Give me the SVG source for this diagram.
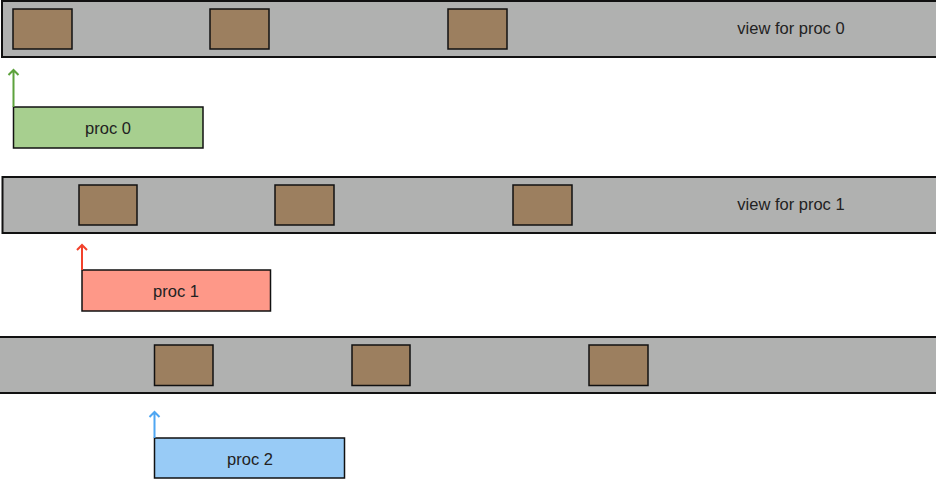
<svg xmlns="http://www.w3.org/2000/svg" width="936" height="479" viewBox="0 0 936 479">
<defs>
<style>
.bar{fill:#b0b1b0;stroke:#111;stroke-width:2}
.blk{fill:#9c7f5f;stroke:#111;stroke-width:1.5}
.proc{stroke:#111;stroke-width:1.5}
.t{font-family:"Liberation Sans",Arial,sans-serif;font-size:16.5px;fill:#222;text-anchor:middle}
.arr{fill:none;stroke-width:2}
</style>
</defs>
<rect width="936" height="479" fill="#fff"/>
<g id="view0">
<rect class="bar" x="2" y="1" width="950" height="56"/>
<rect class="blk" x="13" y="9" width="59" height="40"/>
<rect class="blk" x="210" y="9" width="59" height="40"/>
<rect class="blk" x="448" y="9" width="59" height="40"/>
<text class="t" x="791" y="34">view for proc 0</text>
</g>
<g id="view1">
<rect class="bar" x="2.5" y="177" width="950" height="56"/>
<rect class="blk" x="79" y="185" width="58" height="40"/>
<rect class="blk" x="275" y="185" width="59" height="40"/>
<rect class="blk" x="513" y="185" width="59" height="40"/>
<text class="t" x="791" y="210">view for proc 1</text>
</g>
<g id="view2">
<rect class="bar" x="-10" y="337" width="962" height="56"/>
<rect class="blk" x="154.5" y="345" width="58.5" height="40.5"/>
<rect class="blk" x="352" y="345" width="58" height="40.5"/>
<rect class="blk" x="589" y="345" width="59" height="40.5"/>
</g>
<g id="proc0">
<rect class="proc" x="13.5" y="107" width="189.5" height="41" fill="#a7cf8f"/>
<text class="t" x="108" y="134">proc 0</text>
</g>
<g id="proc1">
<rect class="proc" x="82" y="270" width="188.5" height="41" fill="#fe9888"/>
<text class="t" x="176" y="297">proc 1</text>
</g>
<g id="proc2">
<rect class="proc" x="154.5" y="438" width="190" height="40" fill="#98cbf6"/>
<text class="t" x="250" y="465">proc 2</text>
</g>
<g id="connectors">
<path class="arr" stroke="#5da23c" d="M13.5 107V70M8.5 75L13.5 70L18.5 75"/>
<path class="arr" stroke="#f2412b" d="M82 270V245M77 250L82 245L87 250"/>
<path class="arr" stroke="#4ea6f2" d="M154.5 438V412M149.5 417L154.5 412L159.5 417"/>
</g>
</svg>
